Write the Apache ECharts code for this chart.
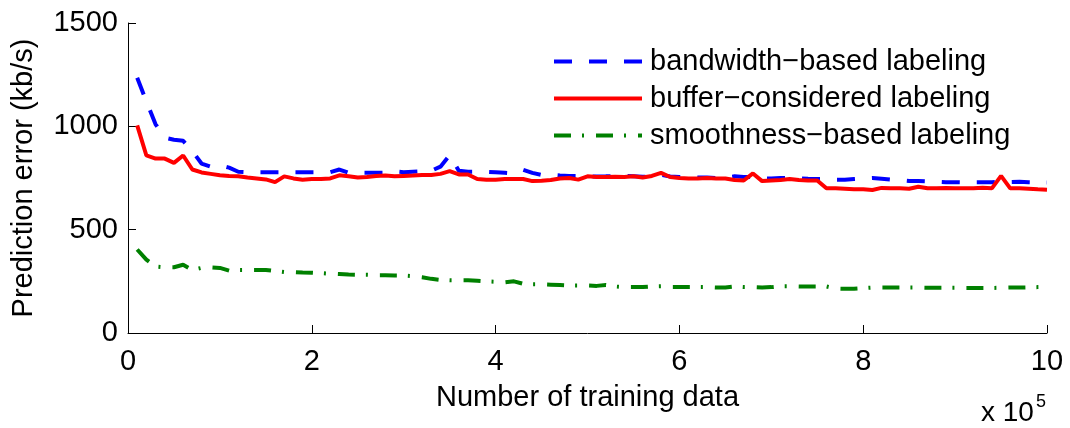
<!DOCTYPE html>
<html>
<head>
<meta charset="utf-8">
<script src="https://cdn.jsdelivr.net/npm/echarts@6/dist/echarts.min.js"></script>
<style>
  html, body { margin: 0; padding: 0; background: #fff; }
  #errorChart { width: 1070px; height: 428px; }
</style>
</head>
<body>
<div id="errorChart"></div>
<script>
// training data size, in units of 10^5
const trainingSize = [
  0.1, 0.2, 0.3, 0.4, 0.5, 0.6, 0.7, 0.8, 0.9, 1.0,
  1.1, 1.2, 1.3, 1.4, 1.5, 1.6, 1.7, 1.8, 1.9, 2.0,
  2.1, 2.2, 2.3, 2.4, 2.5, 2.6, 2.7, 2.8, 2.9, 3.0,
  3.1, 3.2, 3.3, 3.4, 3.5, 3.6, 3.7, 3.8, 3.9, 4.0,
  4.1, 4.2, 4.3, 4.4, 4.5, 4.6, 4.7, 4.8, 4.9, 5.0,
  5.1, 5.2, 5.3, 5.4, 5.5, 5.6, 5.7, 5.8, 5.9, 6.0,
  6.1, 6.2, 6.3, 6.4, 6.5, 6.6, 6.7, 6.8, 6.9, 7.0,
  7.1, 7.2, 7.3, 7.4, 7.5, 7.6, 7.7, 7.8, 7.9, 8.0,
  8.1, 8.2, 8.3, 8.4, 8.5, 8.6, 8.7, 8.8, 8.9, 9.0,
  9.1, 9.2, 9.3, 9.4, 9.5, 9.6, 9.7, 9.8, 9.9, 10.0
];

const bandwidthBased = [
  1235, 1120, 1010, 945, 935, 930, 880, 820, 805, 812,
  800, 780, 778, 778, 778, 778, 778, 778, 778, 778,
  778, 778, 791, 775, 775, 775, 775, 776, 782, 778,
  780, 782, 785, 805, 860, 785, 780, 780, 780, 778,
  775, 772, 790, 775, 765, 765, 762, 760, 760, 758,
  757, 758, 760, 760, 758, 756, 758, 765, 757, 755,
  755, 752, 752, 750, 752, 758, 755, 755, 748, 748,
  750, 750, 748, 746, 745, 744, 742, 742, 745, 748,
  750, 746, 742, 740, 736, 736, 734, 732, 730, 730,
  729, 730, 730, 730, 731, 731, 732, 730, 729, 728
];

const bufferConsidered = [
  1005, 859, 844, 844, 823, 859, 791, 777, 770, 763,
  760, 758, 752, 748, 743, 730, 758, 748, 742, 745,
  745, 748, 763, 758, 752, 755, 760, 762, 758, 760,
  762, 765, 765, 770, 783, 767, 767, 745, 742, 742,
  745, 745, 745, 735, 737, 740, 748, 750, 742, 758,
  755, 755, 756, 755, 758, 752, 760, 775, 755, 750,
  748, 748, 750, 748, 748, 740, 738, 772, 735, 738,
  740, 745, 740, 738, 738, 700, 700, 698, 695, 695,
  692, 702, 700, 700, 698, 708, 700, 700, 702, 700,
  700, 700, 703, 700, 760, 700, 700, 698, 695, 693
];

const smoothnessBased = [
  404, 355, 322, 318, 318, 330, 305, 315, 318, 315,
  302, 305, 305, 305, 305, 300, 295, 295, 293, 292,
  290, 287, 285, 283, 282, 282, 280, 280, 278, 278,
  275, 270, 262, 257, 255, 255, 255, 253, 250, 248,
  245, 250, 238, 236, 236, 234, 232, 230, 230, 230,
  228, 232, 225, 222, 222, 222, 225, 226, 222, 222,
  222, 222, 222, 220, 220, 225, 222, 222, 220, 222,
  226, 226, 225, 225, 225, 225, 215, 214, 214, 217,
  220, 220, 220, 220, 220, 220, 219, 219, 219, 219,
  218, 218, 218, 218, 219, 220, 220, 221, 222, 223
];

const seriesNames = ['bandwidth\u2212based labeling', 'buffer\u2212considered labeling', 'smoothness\u2212based labeling'];
const xTicks = [0, 2, 4, 6, 8, 10];
const yTicks = [0, 500, 1000, 1500];

var chartDom = document.getElementById('errorChart');
var myChart = echarts.init(chartDom);
var option;

const font = "'Liberation Sans', Arial, Helvetica, sans-serif";

const pairs = (ys) => trainingSize.map((x, i) => [x, ys[i]]);

option = {
  animation: false,
  textStyle: { fontFamily: font },
  grid: { left: 128, right: 23, top: 23, bottom: 95 },
  legend: {
    orient: 'vertical',
    left: 552,
    top: 47,
    padding: 0,
    itemGap: 8,
    itemWidth: 88,
    itemHeight: 14,
    itemStyle: { opacity: 0 },   // hide the circle marker, keep the line sample
    lineStyle: { width: 4 },
    textStyle: { fontSize: 29, color: '#000', fontFamily: font, lineHeight: 29, padding: [0, 0, 0, 3] },
    data: seriesNames
  },
  xAxis: {
    type: 'value',
    min: xTicks[0],
    max: xTicks[xTicks.length - 1],
    interval: 2,
    name: 'Number of training data',
    nameLocation: 'middle',
    nameGap: 50,
    nameTextStyle: { fontSize: 29, color: '#000', fontFamily: font },
    axisLine: { lineStyle: { color: '#000', width: 1 } },
    axisTick: { inside: true, length: 8, lineStyle: { color: '#000' } },
    axisLabel: { fontSize: 29, color: '#000', margin: 14, fontFamily: font },
    splitLine: { show: false }
  },
  yAxis: {
    type: 'value',
    min: yTicks[0],
    max: yTicks[yTicks.length - 1],
    interval: 500,
    name: 'Prediction error (kb/s)',
    nameLocation: 'middle',
    nameGap: 90,
    nameTextStyle: { fontSize: 29, color: '#000', fontFamily: font },
    axisLine: { show: true, lineStyle: { color: '#000', width: 1 } },
    axisTick: { show: true, inside: true, length: 8, lineStyle: { color: '#000' } },
    axisLabel: { fontSize: 29, color: '#000', margin: 10, fontFamily: font, formatter: (v) => String(v) },
    splitLine: { show: false }
  },
  graphic: [
    { type: 'text', left: 981, top: 399, style: { text: 'x 10', fontSize: 28, fill: '#000', fontFamily: font } },
    { type: 'text', left: 1036, top: 393, style: { text: '5', fontSize: 18, fill: '#000', fontFamily: font } }
  ],
  series: [
    {
      name: seriesNames[0],
      type: 'line',
      data: pairs(bandwidthBased),
      symbol: 'none',
      lineStyle: { color: '#0000ff', width: 4, type: [18, 17] },
      itemStyle: { color: '#0000ff' }
    },
    {
      name: seriesNames[1],
      type: 'line',
      data: pairs(bufferConsidered),
      symbol: 'none',
      lineStyle: { color: '#ff0000', width: 4 },
      itemStyle: { color: '#ff0000' }
    },
    {
      name: seriesNames[2],
      type: 'line',
      data: pairs(smoothnessBased),
      symbol: 'none',
      lineStyle: { color: '#008000', width: 4, type: [17, 11, 2, 12] },
      itemStyle: { color: '#008000' }
    }
  ]
};

myChart.setOption(option);
</script>
</body>
</html>
